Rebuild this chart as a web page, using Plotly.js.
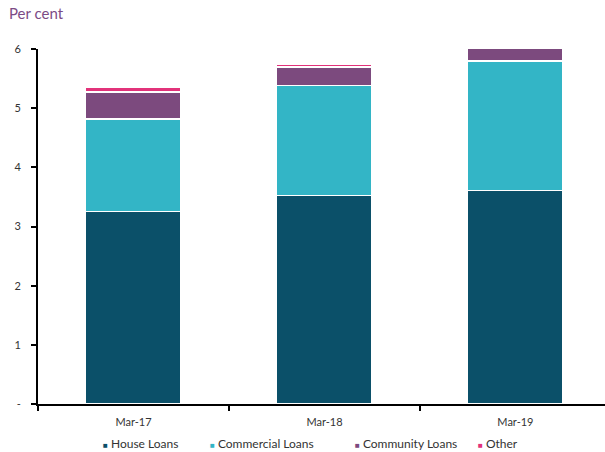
<!DOCTYPE html>
<html>
<head>
<meta charset="utf-8">
<script src="https://cdn.plot.ly/plotly-3.0.1.min.js"></script>
<style>html,body{margin:0;padding:0;background:#fff;}#chart{width:605px;height:452px;}</style>
</head>
<body>
<div id="chart"></div>
<script>
const categories = ["Mar-17", "Mar-18", "Mar-19"];
const houseLoans = [3.25, 3.52, 3.61];
const commercialLoans = [1.57, 1.86, 2.19];
const communityLoans = [0.45, 0.32, 0.22];
const otherLoans = [0.08, 0.05, 0.0];
const seriesNames = ["House Loans", "Commercial Loans", "Community Loans", "Other"];
const yTickVals = [0, 1, 2, 3, 4, 5, 6];
const yTickText = ["-", "1", "2", "3", "4", "5", "6"];

const colors = ["#0b5069", "#33b5c6", "#7c4a7e", "#e2327a"];
const seriesData = [houseLoans, commercialLoans, communityLoans, otherLoans];

const traces = seriesData.map((vals, i) => ({
  type: "bar",
  x: categories,
  y: vals,
  name: seriesNames[i],
  marker: {color: colors[i], line: {color: "#ffffff", width: 1.5}},
  cliponaxis: false,
  showlegend: false,
  hoverinfo: "skip"
}));

// custom legend (small square markers) placed below the axis
const legendLeftPx = [101, 208, 353, 476];
const plotLeft = 38, plotWidth = 567;
const legendAnnotations = seriesNames.map((name, i) => ({
  text: '<span style="color:' + colors[i] + ';font-size:8px">■</span> ' + name,
  xref: "paper", yref: "paper",
  x: (legendLeftPx[i] - plotLeft) / plotWidth,
  y: (404 - 443) / 355,
  xanchor: "left", yanchor: "middle",
  showarrow: false,
  font: {size: 12, color: "#333333", family: "Lato, sans-serif"}
}));

const layout = {
  width: 605,
  height: 452,
  barmode: "stack",
  bargap: 0.5,
  margin: {l: 38, r: 0, t: 49, b: 48},
  paper_bgcolor: "#ffffff",
  plot_bgcolor: "#ffffff",
  font: {family: "Lato, 'Open Sans', sans-serif", size: 11, color: "#333333"},
  showlegend: false,
  xaxis: {
    type: "category",
    range: [-0.5, 2.469],
    showline: true, linecolor: "#000000", linewidth: 2,
    ticks: "outside", ticklen: 5, tickwidth: 2, tickcolor: "#000000",
    tickson: "boundaries",
    showgrid: false, zeroline: false,
    tickfont: {size: 11, color: "#333333"},
    ticklabelstandoff: 7,
    fixedrange: true
  },
  yaxis: {
    range: [0, 6],
    tickvals: yTickVals, ticktext: yTickText,
    showline: true, linecolor: "#000000", linewidth: 2,
    ticks: "outside", ticklen: 5, tickwidth: 2, tickcolor: "#000000",
    showgrid: false, zeroline: false,
    tickfont: {size: 11, color: "#333333"},
    ticklabelstandoff: 8,
    fixedrange: true
  },
  annotations: [{
    text: "Per cent",
    xref: "paper", yref: "paper",
    x: -0.055, y: 1.0, yshift: 36,
    xanchor: "left", yanchor: "middle",
    showarrow: false,
    font: {size: 15, color: "#7c4a85", family: "Lato, sans-serif"}
  }].concat(legendAnnotations)
};

Plotly.newPlot("chart", traces, layout, {displayModeBar: false, staticPlot: true});
</script>
</body>
</html>
